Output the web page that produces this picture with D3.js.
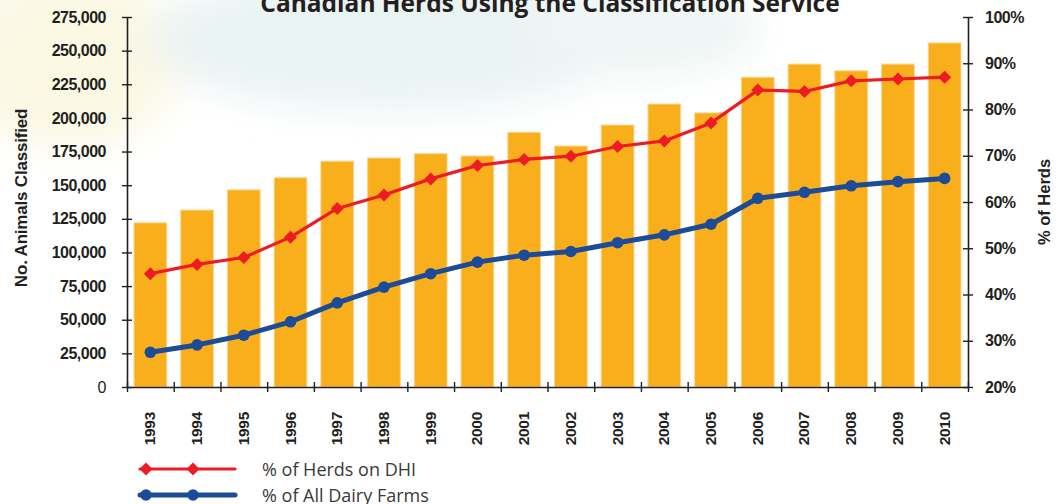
<!DOCTYPE html>
<html>
<head>
<meta charset="utf-8">
<script src="https://cdn.jsdelivr.net/npm/d3@7"></script>
<style>
  html, body { margin: 0; padding: 0; background: #fff; }
  svg { display: block; }
</style>
</head>
<body>
<svg id="chart" width="1062" height="504"></svg>
<script>
const years = ["1993","1994","1995","1996","1997","1998","1999","2000","2001","2002","2003","2004","2005","2006","2007","2008","2009","2010"];
const animalsClassified = [122000,131500,146500,155500,167800,170200,173400,171700,189300,179100,194700,210300,203700,230200,240000,235000,240000,255700];
const pctHerdsOnDHI = [44.5,46.5,48.0,52.4,58.6,61.5,65.0,67.9,69.2,69.9,72.0,73.2,77.1,84.2,83.9,86.2,86.6,87.0];
const pctAllDairyFarms = [27.5,29.1,31.2,34.1,38.2,41.6,44.5,47.0,48.5,49.3,51.2,52.9,55.2,60.8,62.1,63.5,64.4,65.1];
const leftTicks = [0,25000,50000,75000,100000,125000,150000,175000,200000,225000,250000,275000];
const rightTicks = [20,30,40,50,60,70,80,90,100];
const title = "Canadian Herds Using the Classification Service";
const leftTitle = "No. Animals Classified";
const rightTitle = "% of Herds";
const legendLabels = ["% of Herds on DHI", "% of All Dairy Farms"];

const svg = d3.select("#chart");
const L = 127, R = 968, T = 17, B = 387;
const axisFont = "'Liberation Sans', Arial, sans-serif";
const textFont = "'Open Sans', 'Noto Sans', sans-serif";

// faint background watermark
const defs = svg.append("defs");
const f = defs.append("filter").attr("id","blur").attr("x","-50%").attr("y","-50%").attr("width","200%").attr("height","200%");
f.append("feGaussianBlur").attr("stdDeviation", 18);
const bg = svg.append("g").attr("filter","url(#blur)");
bg.append("ellipse").attr("cx",70).attr("cy",60).attr("rx",110).attr("ry",90).attr("fill","#fbf8e4");
bg.append("ellipse").attr("cx",390).attr("cy",40).attr("rx",240).attr("ry",70).attr("fill","#eaf3f3");
bg.append("ellipse").attr("cx",640).attr("cy",30).attr("rx",120).attr("ry",45).attr("fill","#eef5f4");

const xb = d3.scaleBand().domain(years).range([L, R]).paddingInner(0.3).paddingOuter(0.15);
const xl = d3.scaleLinear().domain([0, years.length]).range([L, R]);
const yL = d3.scaleLinear().domain([0, 275000]).range([B, T]);
const yR = d3.scaleLinear().domain([20, 100]).range([B, T]);

// bars
svg.append("g").selectAll("rect").data(animalsClassified).join("rect")
  .attr("x", (d,i) => xb(years[i]))
  .attr("y", d => yL(d))
  .attr("width", xb.bandwidth())
  .attr("height", d => B - yL(d))
  .attr("fill", "#f9ae1b")
  .attr("stroke", "#fcd58c")
  .attr("stroke-width", 1);

// left axis
const gL = svg.append("g").attr("transform", `translate(${L},0)`)
  .call(d3.axisLeft(yL).tickValues(leftTicks).tickFormat(d3.format(",")).tickSizeInner(5).tickSizeOuter(0).tickPadding(16));
gL.select(".domain").attr("stroke", "#231f20").attr("stroke-width", 1.6);
gL.selectAll(".tick line").attr("x1", -5).attr("x2", 5).attr("stroke", "#231f20").attr("stroke-width", 1.4);
gL.selectAll(".tick text").attr("font-family", axisFont).attr("font-size", 16).attr("font-weight", d => d === 0 ? "normal" : "bold")
  .attr("letter-spacing", -0.5).attr("fill", "#231f20");

// right axis
const gR = svg.append("g").attr("transform", `translate(${R},0)`)
  .call(d3.axisRight(yR).tickValues(rightTicks).tickFormat(d => d + "%").tickSizeInner(5).tickSizeOuter(0).tickPadding(12));
gR.select(".domain").attr("stroke", "#231f20").attr("stroke-width", 1.6);
gR.selectAll(".tick line").attr("x1", -5).attr("x2", 5).attr("stroke", "#231f20").attr("stroke-width", 1.4);
gR.selectAll(".tick text").attr("font-family", axisFont).attr("font-size", 16).attr("font-weight", "bold")
  .attr("letter-spacing", -0.5).attr("fill", "#231f20");

// bottom axis (ticks at band boundaries)
const gB = svg.append("g").attr("transform", `translate(0,${B})`)
  .call(d3.axisBottom(xl).tickValues(d3.range(years.length + 1)).tickFormat("").tickSizeInner(5).tickSizeOuter(0));
gB.select(".domain").attr("stroke", "#231f20").attr("stroke-width", 1.6);
gB.selectAll(".tick line").attr("y1", -5).attr("y2", 5).attr("stroke", "#231f20").attr("stroke-width", 1.4);

// year labels
svg.append("g").selectAll("text").data(years).join("text")
  .attr("transform", d => `translate(${xb(d) + xb.bandwidth()/2 + 5},412) rotate(-90)`)
  .attr("text-anchor", "end")
  .attr("font-family", axisFont).attr("font-size", 15.5).attr("font-weight", "bold")
  .attr("letter-spacing", -0.3).attr("fill", "#231f20")
  .text(d => d);

// lines
const cx = i => xb(years[i]) + xb.bandwidth()/2;
const lineR = d3.line().x((d,i) => cx(i)).y(d => yR(d));
svg.append("path").datum(pctHerdsOnDHI).attr("d", lineR)
  .attr("fill","none").attr("stroke","#ed1c24").attr("stroke-width",3.2).attr("stroke-linejoin","round");
svg.append("path").datum(pctAllDairyFarms).attr("d", lineR)
  .attr("fill","none").attr("stroke","#1c4b97").attr("stroke-width",5).attr("stroke-linejoin","round");

const diamond = (x, y, r) => `M${x},${y-r}L${x+r},${y}L${x},${y+r}L${x-r},${y}Z`;
svg.append("g").selectAll("path").data(pctHerdsOnDHI).join("path")
  .attr("d", (d,i) => diamond(cx(i), yR(d), 6.5)).attr("fill", "#ed1c24");
svg.append("g").selectAll("circle").data(pctAllDairyFarms).join("circle")
  .attr("cx", (d,i) => cx(i)).attr("cy", d => yR(d)).attr("r", 5.8).attr("fill", "#1c4b97");

// titles
svg.append("text").attr("x", 550).attr("y", 12).attr("text-anchor","middle")
  .attr("font-family", textFont).attr("font-size", 24.5).attr("font-weight","bold").attr("fill","#231f20")
  .text(title);
svg.append("text").attr("transform","translate(27,198) rotate(-90)").attr("text-anchor","middle")
  .attr("font-family", axisFont).attr("font-size", 17).attr("font-weight","bold").attr("letter-spacing", -0.2).attr("fill","#231f20")
  .text(leftTitle);
svg.append("text").attr("transform","translate(1050,202) rotate(-90)").attr("text-anchor","middle")
  .attr("font-family", axisFont).attr("font-size", 16.5).attr("font-weight","bold").attr("fill","#231f20")
  .text(rightTitle);

// legend
const legY = [469, 495];
const legColors = ["#ed1c24", "#1c4b97"];
const legWidths = [3.2, 5];
legY.forEach((y, k) => {
  svg.append("line").attr("x1", 140).attr("x2", 235).attr("y1", y).attr("y2", y)
    .attr("stroke", legColors[k]).attr("stroke-width", legWidths[k]).attr("stroke-linecap", "round");
  [146, 193].forEach(x => {
    if (k === 0) svg.append("path").attr("d", diamond(x, y, 6.5)).attr("fill", legColors[k]);
    else svg.append("circle").attr("cx", x).attr("cy", y).attr("r", 5.8).attr("fill", legColors[k]);
  });
  svg.append("text").attr("x", 262).attr("y", y + 6.5)
    .attr("font-family", textFont).attr("font-size", 18).attr("fill", "#3a3a3a")
    .text(legendLabels[k]);
});
</script>
</body>
</html>
